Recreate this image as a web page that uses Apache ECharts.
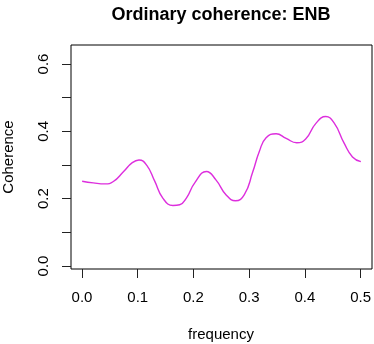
<!DOCTYPE html>
<html>
<head>
<meta charset="utf-8">
<script src="https://cdn.jsdelivr.net/npm/echarts@6/dist/echarts.min.js"></script>
<style>
html,body{margin:0;padding:0;background:#fff;}
#chart{width:374px;height:344px;}
</style>
</head>
<body>
<div id="chart"></div>
<script>
var titleText = 'Ordinary coherence: ENB';
var xTitle = 'frequency';
var yTitle = 'Coherence';
var frequency = [0.0,0.02,0.041,0.056,0.074,0.09,0.102,0.116,0.13,0.145,0.163,0.175,0.187,0.202,0.223,0.24,0.258,0.275,0.291,0.306,0.318,0.33,0.348,0.366,0.385,0.401,0.419,0.437,0.452,0.47,0.485,0.5];
var coherence = [0.251,0.246,0.243,0.250,0.279,0.306,0.314,0.298,0.252,0.200,0.179,0.181,0.201,0.246,0.280,0.255,0.211,0.193,0.211,0.278,0.340,0.380,0.392,0.378,0.365,0.376,0.422,0.443,0.424,0.364,0.323,0.309];
var xTicks = [0.0,0.1,0.2,0.3,0.4,0.5];
var yTicks = [0.0,0.1,0.2,0.3,0.4,0.5,0.6];
var yLabelled = [0.0,0.2,0.4,0.6];

var pts = frequency.map(function(f,i){return [f, coherence[i]];});
var font = 'Liberation Sans, Arial, Helvetica, sans-serif';
var tickStyle = {show:true, length:9, lineStyle:{color:'#222', width:1}};
var chart = echarts.init(document.getElementById('chart'), null, {renderer:'canvas'});
chart.setOption({
  animation:false,
  backgroundColor:'#fff',
  grid:[
    {left:71, top:45, width:301, height:224, show:true, borderColor:'#000', borderWidth:1, backgroundColor:'transparent'},
    {left:82, top:64, width:280, height:205, show:false},
    {left:71, top:64, width:301, height:202, show:false}
  ],
  xAxis:[
    {gridIndex:0, type:'value', min:-0.02, max:0.52, show:false},
    {gridIndex:1, type:'value', min:xTicks[0], max:xTicks[xTicks.length-1], interval:0.1, position:'bottom',
      axisLine:{show:false}, splitLine:{show:false}, axisTick:tickStyle,
      axisLabel:{margin:21, color:'#000', fontSize:15, fontFamily:font, formatter:function(v){return v.toFixed(1);}}},
    {gridIndex:2, type:'value', min:0, max:1, show:false}
  ],
  yAxis:[
    {gridIndex:0, type:'value', min:-0.0098, max:0.6555, show:false},
    {gridIndex:1, type:'value', min:0, max:1, show:false},
    {gridIndex:2, type:'value', min:yTicks[0], max:yTicks[yTicks.length-1], interval:0.1, position:'left',
      axisLine:{show:false}, splitLine:{show:false}, axisTick:tickStyle,
      axisLabel:{margin:20, rotate:90, color:'#000', fontSize:15, fontFamily:font, formatter:function(v){
        var r = Math.round(v*10)/10;
        return yLabelled.some(function(t){return Math.abs(t-r)<1e-9;}) ? r.toFixed(1) : '';
      }}}
  ],
  series:[{
    type:'line', xAxisIndex:0, yAxisIndex:0, data:pts, smooth:true, showSymbol:false,
    lineStyle:{color:'#dd2edd', width:1.4}
  }],
  graphic:[
    {type:'text', x:221, y:15, style:{text:titleText, fontSize:18, fontWeight:'bold', fontFamily:font, fill:'#000', textAlign:'center', textVerticalAlign:'middle'}},
    {type:'text', x:221, y:335, style:{text:xTitle, fontSize:15, fontFamily:font, fill:'#000', textAlign:'center', textVerticalAlign:'middle'}},
    {type:'text', x:9, y:157, rotation:Math.PI/2, style:{text:yTitle, fontSize:15, fontFamily:font, fill:'#000', textAlign:'center', textVerticalAlign:'middle'}}
  ]
});
</script>
</body>
</html>
